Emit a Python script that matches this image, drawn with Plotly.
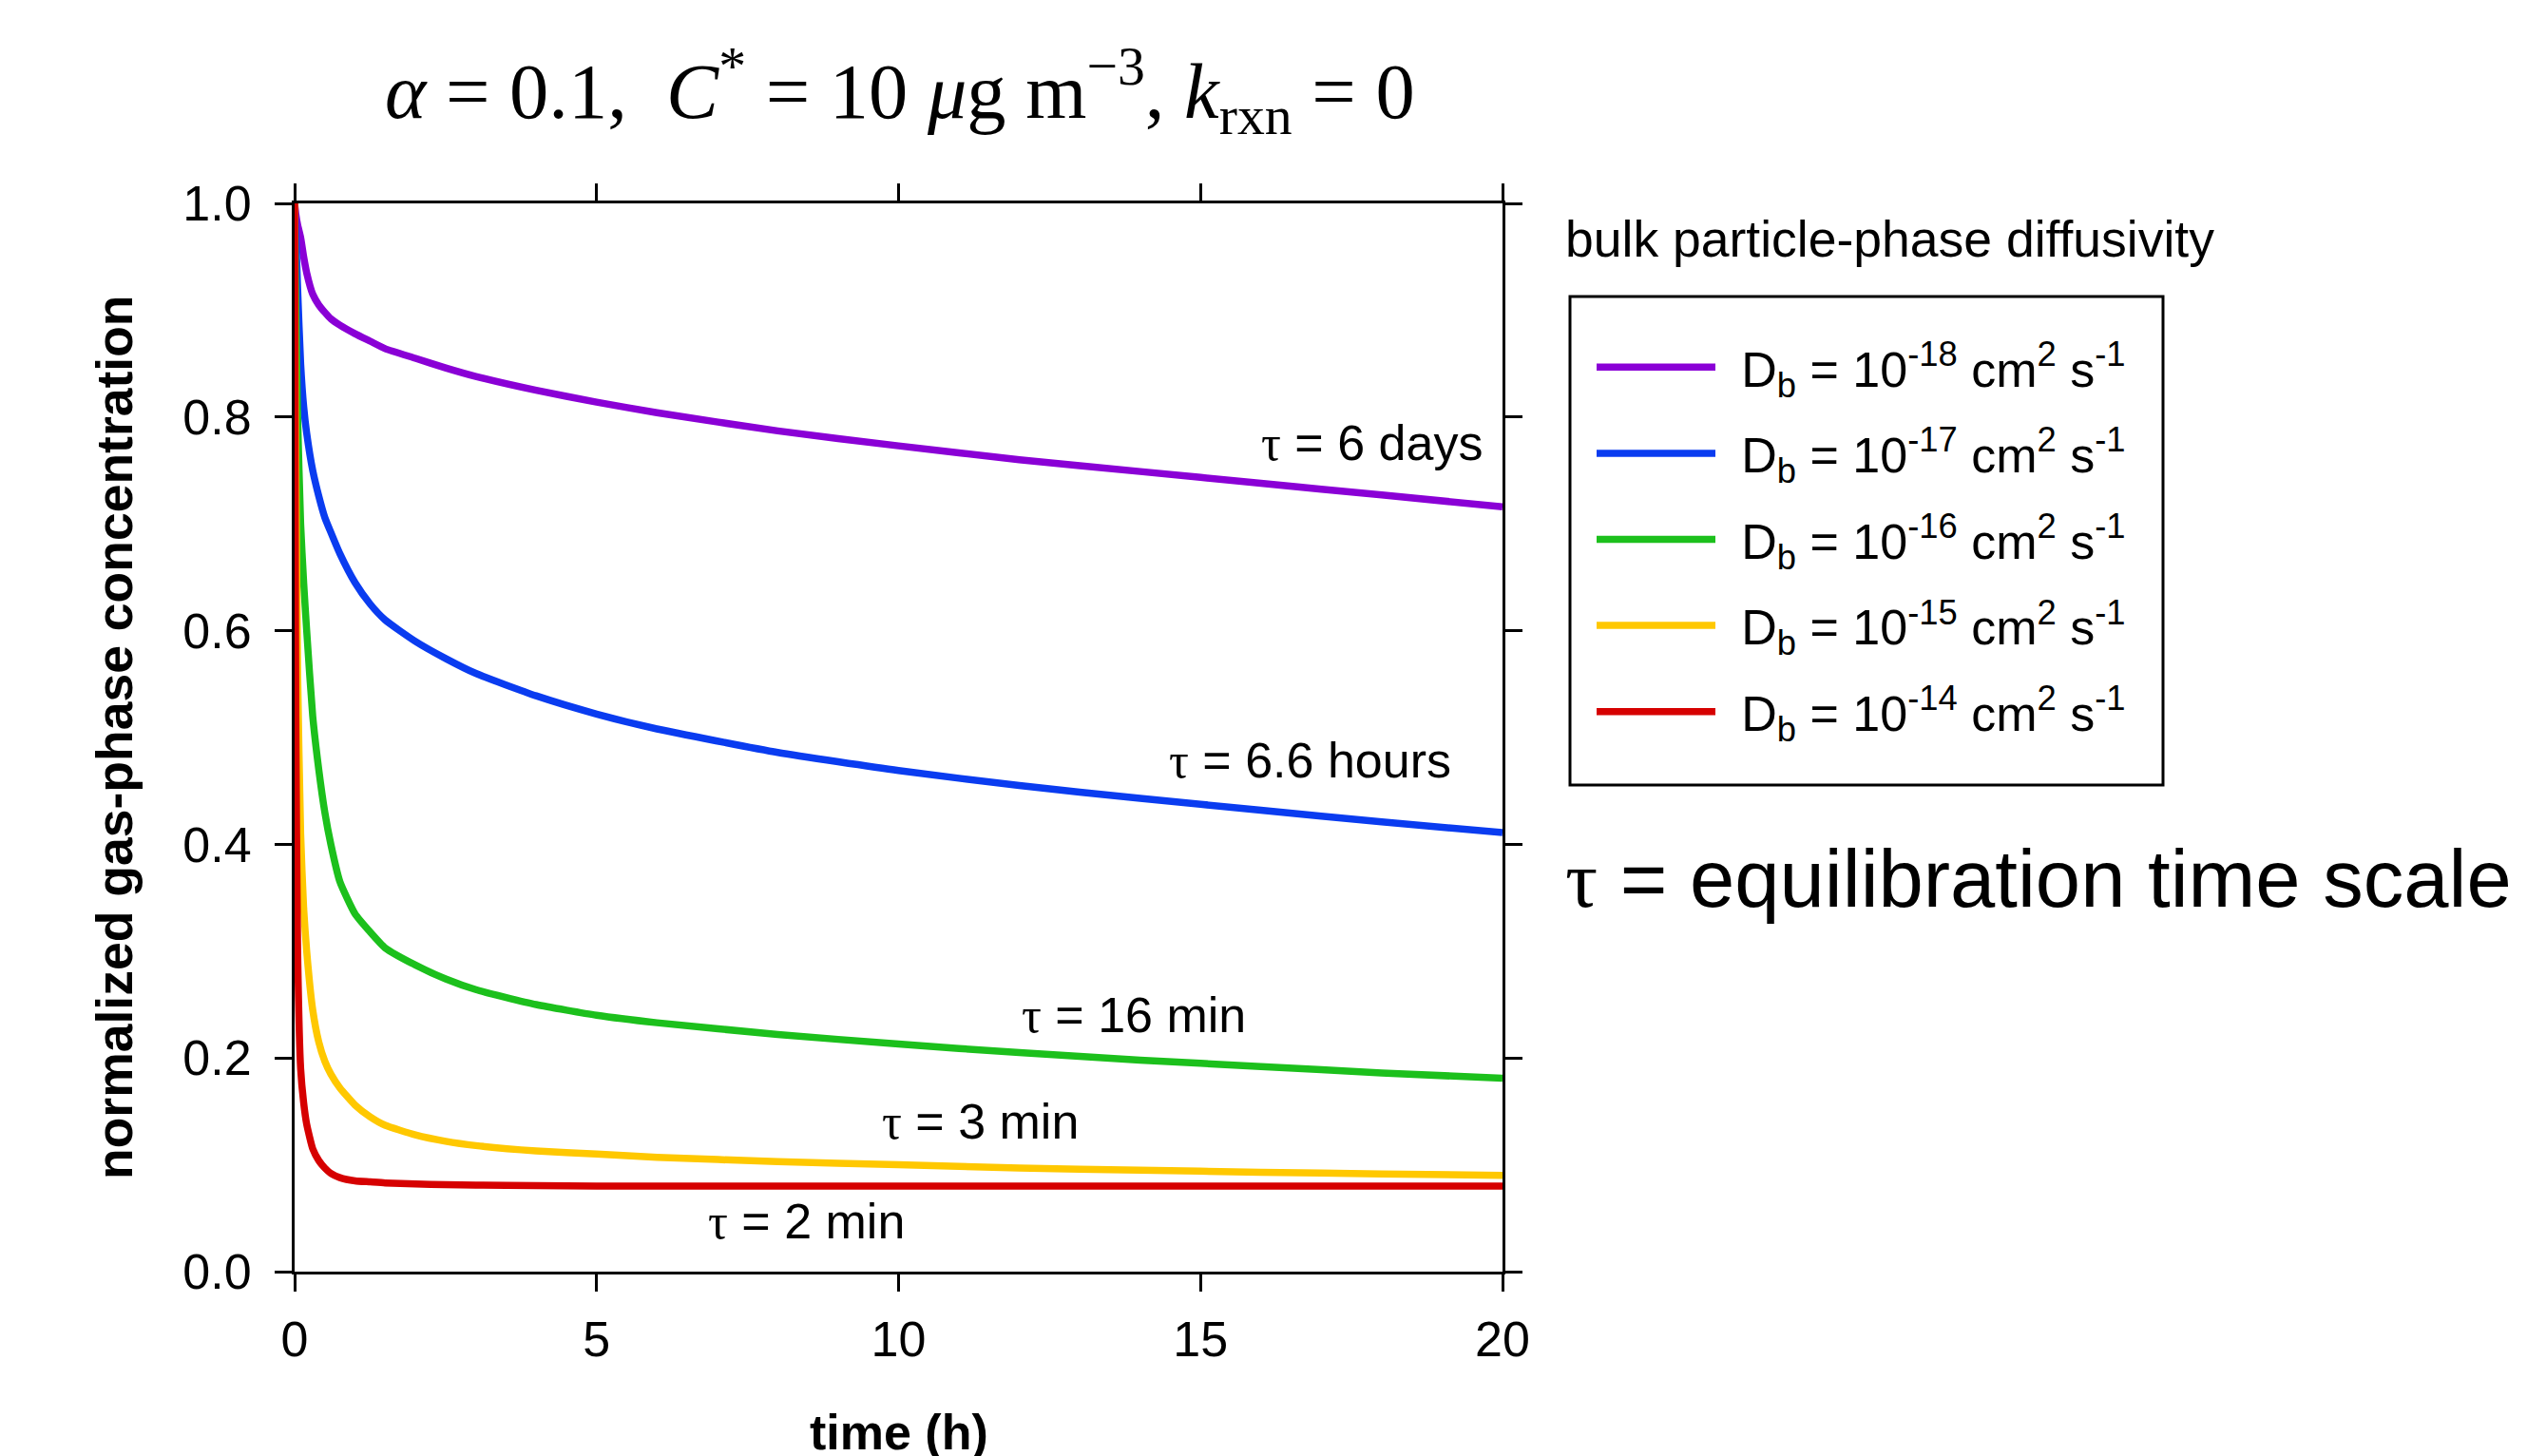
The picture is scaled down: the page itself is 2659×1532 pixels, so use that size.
import plotly.graph_objects as go

# ---------------- data ----------------
time_h = [0, 0.01, 0.02, 0.05, 0.1, 0.15, 0.2, 0.3, 0.4, 0.5, 0.6, 0.75, 1, 1.25, 1.5, 2, 2.5, 3,
          4, 5, 6, 8, 10, 12, 14, 16, 18, 20]

conc_db_1e18 = [1.0, 0.995, 0.99, 0.98, 0.968, 0.95, 0.935, 0.915, 0.905, 0.898, 0.892, 0.886, 0.878,
                0.871, 0.864, 0.855, 0.846, 0.838, 0.825, 0.814, 0.804, 0.787, 0.773, 0.760, 0.749,
                0.738, 0.727, 0.716]
conc_db_1e17 = [1.0, 0.985, 0.97, 0.92, 0.85, 0.81, 0.785, 0.75, 0.726, 0.706, 0.692, 0.672, 0.645,
                0.625, 0.61, 0.59, 0.574, 0.56, 0.539, 0.522, 0.508, 0.486, 0.469, 0.455, 0.443,
                0.432, 0.421, 0.411]
conc_db_1e16 = [1.0, 0.95, 0.9, 0.8, 0.70, 0.645, 0.60, 0.52, 0.47, 0.43, 0.40, 0.365, 0.335,
                0.318, 0.303, 0.287, 0.274, 0.264, 0.25, 0.24, 0.233, 0.222, 0.213, 0.205, 0.198,
                0.192, 0.186, 0.181]
conc_db_1e15 = [1.0, 0.85, 0.76, 0.56, 0.41, 0.34, 0.30, 0.245, 0.215, 0.197, 0.185, 0.172, 0.156,
                0.145, 0.137, 0.128, 0.122, 0.118, 0.113, 0.110, 0.107, 0.103, 0.100, 0.097, 0.095,
                0.093, 0.0915, 0.090]
conc_db_1e14 = [1.0, 0.70, 0.52, 0.30, 0.19, 0.158, 0.138, 0.115, 0.104, 0.097, 0.092, 0.088, 0.085,
                0.084, 0.083, 0.082, 0.0815, 0.081, 0.0805, 0.080, 0.080, 0.080, 0.080, 0.080, 0.080,
                0.080, 0.080, 0.080]

series_names = [
    "D<sub>b</sub> = 10<sup>-18</sup> cm<sup>2</sup> s<sup>-1</sup>",
    "D<sub>b</sub> = 10<sup>-17</sup> cm<sup>2</sup> s<sup>-1</sup>",
    "D<sub>b</sub> = 10<sup>-16</sup> cm<sup>2</sup> s<sup>-1</sup>",
    "D<sub>b</sub> = 10<sup>-15</sup> cm<sup>2</sup> s<sup>-1</sup>",
    "D<sub>b</sub> = 10<sup>-14</sup> cm<sup>2</sup> s<sup>-1</sup>",
]
series_colors = ["#8A00D6", "#0A3CF0", "#1CC01C", "#FFC800", "#D60000"]

tau_labels = ["6 days", "6.6 hours", "16 min", "3 min", "2 min"]
tau_x = [17.83, 16.81, 13.90, 11.36, 8.47]
tau_y = [0.776, 0.479, 0.240, 0.1406, 0.047]

x_ticks = [0, 5, 10, 15, 20]
y_ticks = [0.0, 0.2, 0.4, 0.6, 0.8, 1.0]

# ---------------- figure ----------------
SANS = "Liberation Sans, Arial, sans-serif"
SERIF = "Liberation Serif, Times New Roman, serif"
W, H = 2659, 1532
L, R, T, B = 310, 1581, 214, 1338


def px_x(p):
    return (p - L) / (R - L)


def px_y(p):
    return (B - p) / (B - T)


fig = go.Figure()
all_series = [conc_db_1e18, conc_db_1e17, conc_db_1e16, conc_db_1e15, conc_db_1e14]
pad = '<span style="font-size:40px">\u00a0\u00a0</span>'
for i, (name, col, ys) in enumerate(zip(series_names, series_colors, all_series)):
    fig.add_trace(go.Scatter(
        x=time_h, y=ys, mode="lines", name=pad + name + "\u00a0\u00a0",
        line=dict(color=col, width=7.5, shape="spline", smoothing=0.5), legendgroup=f"g{i}",
    ))

annotations = []
tau_span = '<span style="font-family:Liberation Serif">τ</span>'
for lab, xx, yy in zip(tau_labels, tau_x, tau_y):
    annotations.append(dict(x=xx, y=yy, xref="x", yref="y", text=f"{tau_span} = {lab}",
                            showarrow=False, font=dict(family=SANS, size=52, color="black"),
                            xanchor="center", yanchor="middle"))

annotations += [
    dict(x=px_x(120), y=0.5, xref="paper", yref="paper", text="<b>normalized gas-phase concentration</b>",
         textangle=-90, showarrow=False, font=dict(family=SANS, size=53.5, color="black"),
         xanchor="center", yanchor="middle"),
    dict(x=0.5, y=px_y(1507), xref="paper", yref="paper", text="<b>time (h)</b>",
         showarrow=False, font=dict(family=SANS, size=52, color="black"),
         xanchor="center", yanchor="middle"),
    dict(x=px_x(1645), y=px_y(251), xref="paper", yref="paper", text="bulk particle-phase diffusivity",
         showarrow=False, font=dict(family=SANS, size=53.5, color="black"),
         xanchor="left", yanchor="middle"),
    dict(x=px_x(1645), y=px_y(924), xref="paper", yref="paper",
         text=f"{tau_span} = equilibration time scale",
         showarrow=False, font=dict(family=SANS, size=85, color="black"),
         xanchor="left", yanchor="middle"),
    dict(x=px_x(947), y=px_y(95), xref="paper", yref="paper",
         text="<i>α</i>\u00a0=\u00a00.1,\u00a0 <i>C</i><sup>*</sup>\u00a0=\u00a010\u00a0<i>μ</i>g\u00a0m<sup>−3</sup>,\u00a0<i>k</i><sub>rxn</sub>\u00a0=\u00a00",
         showarrow=False, font=dict(family=SERIF, size=82.5, color="black"),
         xanchor="center", yanchor="middle"),
]

shapes = [
    dict(type="rect", xref="paper", yref="paper",
         x0=px_x(1652), x1=px_x(2276), y0=px_y(826), y1=px_y(312),
         line=dict(color="black", width=3), fillcolor="rgba(0,0,0,0)", layer="above"),
]

axis_common = dict(
    showline=True, linecolor="black", linewidth=3, mirror="allticks",
    ticks="outside", ticklen=18, tickwidth=3, tickcolor="black",
    showgrid=False, zeroline=False,
    tickfont=dict(family=SANS, size=52, color="black"),
)

fig.update_layout(
    width=W, height=H,
    margin=dict(l=L, r=W - R, t=T, b=H - B, pad=0, autoexpand=False),
    paper_bgcolor="white", plot_bgcolor="white",
    xaxis=dict(range=[0, 20], tickvals=x_ticks, ticktext=[str(v) for v in x_ticks],
               ticklabelstandoff=6, automargin=False, **axis_common),
    yaxis=dict(range=[0, 1.0], tickvals=y_ticks, ticktext=[f"{v:.1f}" for v in y_ticks],
               ticklabelstandoff=14, automargin=False, **axis_common),
    showlegend=True,
    legend=dict(x=px_x(1675), y=px_y(346), xanchor="left", yanchor="top",
                borderwidth=0, bgcolor="rgba(0,0,0,0)",
                font=dict(family=SANS, size=52, color="black"),
                itemwidth=125, tracegroupgap=20, traceorder="grouped"),
    annotations=annotations,
    shapes=shapes,
)

fig.write_html("out.html", config={"displayModeBar": False},
               post_script="document.body.style.margin='0px';")
